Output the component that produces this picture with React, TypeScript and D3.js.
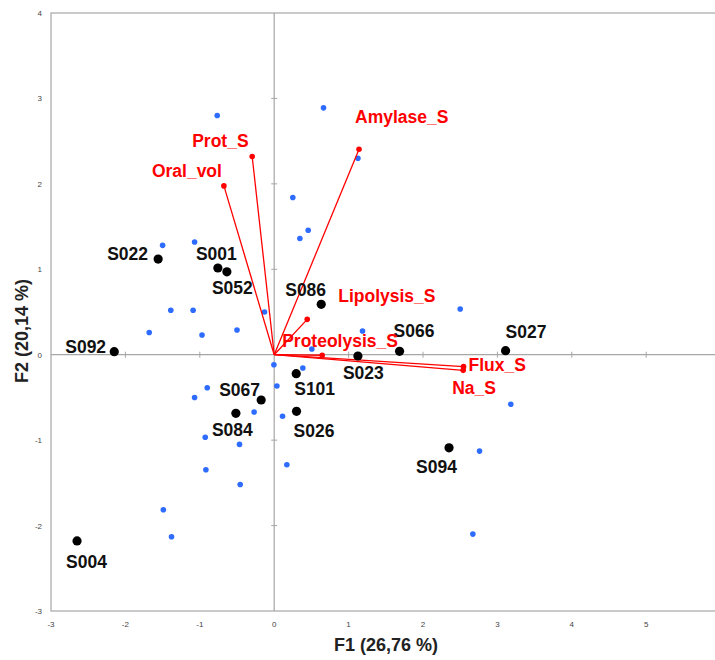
import React from "react";
import * as d3 from "d3";

// Observations (labelled subjects)
const obsNames = ["S022", "S001", "S052", "S086", "S092", "S004", "S067", "S084", "S101", "S026", "S023", "S066", "S027", "S094"];
const obsF1 = [-1.56, -0.757, -0.636, 0.632, -2.15, -2.65, -0.175, -0.515, 0.296, 0.30, 1.125, 1.685, 3.11, 2.35];
const obsF2 = [1.12, 1.015, 0.97, 0.59, 0.035, -2.18, -0.53, -0.686, -0.222, -0.663, -0.015, 0.04, 0.047, -1.09];

// Other observations (blue)
const otherF1 = [-0.766, 0.663, 1.125, 0.25, 0.457, 0.345, -1.50, -1.07, -1.39, -1.09, -0.13, -1.68, -0.97, -0.50, -0.004, 0.385, 0.506, 1.187, 0.036, -0.27, 0.112, -0.466, -0.90, -1.07, -0.927, 0.17, -0.918, -0.457, -1.49, -1.38, 2.50, 3.18, 2.76, 2.67];
const otherF2 = [2.80, 2.89, 2.30, 1.84, 1.457, 1.36, 1.28, 1.32, 0.52, 0.52, 0.50, 0.26, 0.23, 0.29, -0.117, -0.156, 0.067, 0.277, -0.367, -0.67, -0.72, -1.05, -0.386, -0.50, -0.967, -1.288, -1.347, -1.52, -1.815, -2.13, 0.535, -0.58, -1.128, -2.10];

// Variables (loadings)
const varNames = ["Oral_vol", "Prot_S", "Amylase_S", "Lipolysis_S", "Proteolysis_S", "Flux_S", "Na_S"];
const varF1 = [-0.676, -0.296, 1.14, 0.444, 0.645, 2.545, 2.54];
const varF2 = [1.976, 2.32, 2.405, 0.414, -0.006, -0.14, -0.183];

const xTicks = [-3, -2, -1, 0, 1, 2, 3, 4, 5];
const yTicks = [-3, -2, -1, 0, 1, 2, 3, 4];
const xTitle = "F1 (26,76 %)";
const yTitle = "F2 (20,14 %)";

// Layout: label offsets (pixels) relative to their mark
const obsLabelOffset: Record<string, [number, number]> = {
  S022: [-51, 1], S001: [-22, -8], S052: [-15, 22], S086: [-36, -8], S092: [-49, 1],
  S004: [-11, 27], S067: [-42, -4], S084: [-24, 23], S101: [-2, 21], S026: [-3, 26],
  S023: [-15, 23], S066: [-6, -14], S027: [0, -13], S094: [-33, 25],
};
const varLabelOffset: Record<string, [number, number]> = {
  Oral_vol: [-72, -9], Prot_S: [-60, -10], Amylase_S: [-4, -26], Lipolysis_S: [31, -17],
  Proteolysis_S: [-40, -8], Flux_S: [5, 4], Na_S: [-11, 24],
};

export default function App() {
  const W = 715, H = 660;
  const x = d3.scaleLinear().domain([-3, 6]).range([51, 720.6]);
  const y = d3.scaleLinear().domain([-3, 4]).range([611, 13]);
  const grey = "#a6a6a6";
  const font = "'Liberation Sans', Arial, sans-serif";
  const red = "#ff0000";

  return (
    <svg width={W} height={H} style={{ position: "absolute", left: 0, top: 0, background: "#fff" }}>
      <rect x={0} y={0} width={W} height={H} fill="#fff" />
      {/* frame */}
      <rect x={x(-3)} y={y(4)} width={x(6) - x(-3)} height={y(-3) - y(4)} fill="none" stroke={grey} strokeWidth={1.2} />
      {/* zero axes */}
      <line x1={x(-3)} x2={x(6)} y1={y(0)} y2={y(0)} stroke={grey} strokeWidth={1.2} />
      <line x1={x(0)} x2={x(0)} y1={y(4)} y2={y(-3)} stroke={grey} strokeWidth={1.2} />
      {xTicks.filter(t => t !== 0 && t !== -3).map(t => (
        <line key={"xt" + t} x1={x(t)} x2={x(t)} y1={y(0) - 3} y2={y(0) + 3} stroke={grey} strokeWidth={1} />
      ))}
      {yTicks.filter(t => t !== 0 && t !== -3 && t !== 4).map(t => (
        <line key={"yt" + t} x1={x(0) - 3} x2={x(0) + 3} y1={y(t)} y2={y(t)} stroke={grey} strokeWidth={1} />
      ))}
      {/* tick labels */}
      {xTicks.map(t => (
        <text key={"xl" + t} x={x(t)} y={y(-3) + 16} fontSize={8} fontFamily={font} fill="#444" textAnchor="middle">{t}</text>
      ))}
      {yTicks.map(t => (
        <text key={"yl" + t} x={42} y={y(t) + 3} fontSize={8} fontFamily={font} fill="#444" textAnchor="end">{t}</text>
      ))}
      {/* axis titles */}
      <text x={386} y={651} fontSize={18} fontWeight="bold" fontFamily={font} fill="#222" textAnchor="middle">{xTitle}</text>
      <text transform={`translate(28,331) rotate(-90)`} fontSize={18} fontWeight="bold" fontFamily={font} fill="#222" textAnchor="middle">{yTitle}</text>

      {/* blue observations */}
      {otherF1.map((v, i) => (
        <circle key={"b" + i} cx={x(v)} cy={y(otherF2[i])} r={2.8} fill="#2e6cff" />
      ))}

      {/* variable vectors */}
      {varNames.map((n, i) => (
        <g key={"v" + n}>
          <line x1={x(0)} y1={y(0)} x2={x(varF1[i])} y2={y(varF2[i])} stroke={red} strokeWidth={1.3} />
          <circle cx={x(varF1[i])} cy={y(varF2[i])} r={2.8} fill={red} />
        </g>
      ))}

      {/* labelled observations */}
      {obsNames.map((n, i) => (
        <circle key={"o" + n} cx={x(obsF1[i])} cy={y(obsF2[i])} r={4.6} fill="#000" />
      ))}
      {obsNames.map((n, i) => (
        <text key={"ot" + n} x={x(obsF1[i]) + obsLabelOffset[n][0]} y={y(obsF2[i]) + obsLabelOffset[n][1]}
          fontSize={17.5} fontWeight="bold" fontFamily={font} fill="#111">{n}</text>
      ))}
      {varNames.map((n, i) => (
        <text key={"vt" + n} x={x(varF1[i]) + varLabelOffset[n][0]} y={y(varF2[i]) + varLabelOffset[n][1]}
          fontSize={17.5} fontWeight="bold" fontFamily={font} fill={red}>{n}</text>
      ))}
    </svg>
  );
}
